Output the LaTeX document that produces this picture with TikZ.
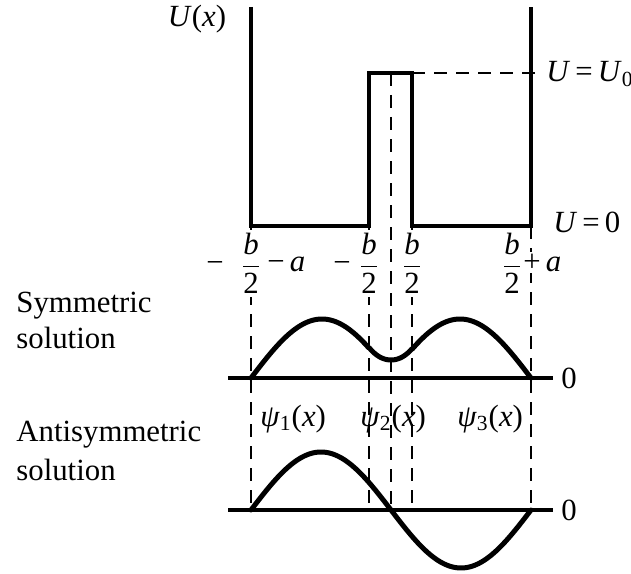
\documentclass[tikz,border=0pt]{standalone}
\usepackage{amsmath}
\usepackage{fontspec}
\setmainfont{Liberation Serif}
\begin{document}
\begin{tikzpicture}[x=0.5bp,y=-0.5bp,
  wall/.style={line width=1.6bp},
  dashline/.style={line width=0.75bp, dash pattern=on 6.5bp off 4.5bp},
  wave/.style={line width=2.5bp, line join=round, line cap=round},
  axisline/.style={line width=1.8bp},
  lbl/.style={inner sep=0pt, font=\fontsize{15.4bp}{19bp}\selectfont},
  frac/.style={lbl, fill=white, inner sep=1.5bp}]
\useasboundingbox (0,0) rectangle (631,574);

% potential profile
\coordinate (LT) at (251,7);
\coordinate (LB) at (251,226);
\coordinate (B1B) at (369,226);
\coordinate (B1T) at (369,73);
\coordinate (B2T) at (412,73);
\coordinate (B2B) at (412,226);
\coordinate (RB) at (531,226);
\coordinate (RT) at (531,7);
\coordinate (U0end) at (542,73);
\coordinate (CT) at (391,73);
\coordinate (CB) at (391,510);
\coordinate (LD) at (251,510);
\coordinate (B1D) at (369,510);
\coordinate (B2D) at (412,510);
\coordinate (RD) at (531,510);

\draw[dashline] (B2T) -- (U0end);
\draw[dashline] (CT) -- (CB);
\draw[dashline] (LB) -- (LD);
\draw[dashline] (B1B) -- (B1D);
\draw[dashline] (B2B) -- (B2D);
\draw[dashline] (RB) -- (RD);

\draw[wall] (LT) -- (LB) -- (B1B) -- (B1T) -- (B2T) -- (B2B) -- (RB) -- (RT);

% labels of potential
\node[lbl, anchor=base] (Ux) at (197,27) {\textit{U}(\textit{x})};
\node[lbl, anchor=base west] (U0) at (546,82) {\textit{U}\,=\,\textit{U}\textsubscript{0}};
\node[lbl, anchor=base west] (Uz) at (553,233) {\textit{U}\,=\,0};

% x-position labels
\node[frac, anchor=base] (f1) at (251,274) {$\dfrac{\textit{b}}{\textrm{2}}$};
\node[lbl, anchor=base] (m1) at (215,272) {−};
\node[lbl, fill=white, inner sep=1bp, anchor=base west] (ma) at (265,271) {−\,\textit{a}};
\node[frac, anchor=base] (f2) at (369,274) {$\dfrac{\textit{b}}{\textrm{2}}$};
\node[lbl, anchor=base] (m2) at (342,272) {−};
\node[frac, anchor=base] (f3) at (412,274) {$\dfrac{\textit{b}}{\textrm{2}}$};
\node[frac, anchor=base] (f4) at (512,274) {$\dfrac{\textit{b}}{\textrm{2}}$};
\node[lbl, fill=white, inner sep=1bp, anchor=base west] (pa) at (521,271) {+\,\textit{a}};

% side texts
\node[lbl, anchor=base west] (s1) at (16,312) {Symmetric};
\node[lbl, anchor=base west] (s2) at (16,348) {solution};
\node[lbl, anchor=base west] (a1) at (16,441) {Antisymmetric};
\node[lbl, anchor=base west] (a2) at (16,480) {solution};

% axes
\coordinate (SA1) at (228,378);
\coordinate (SA2) at (553,378);
\coordinate (AA1) at (228,510);
\coordinate (AA2) at (553,510);
\draw[axisline] (SA1) -- (SA2);
\draw[axisline] (AA1) -- (AA2);
\node[lbl, anchor=west] (z1) at (561,378) {0};
\node[lbl, anchor=west] (z2) at (561,510) {0};

% psi labels
\node[lbl, anchor=base west] (p1) at (260,426) {\textit{ψ}\textsubscript{1}(\textit{x})};
\node[lbl, anchor=base west] (p2) at (360,426) {\textit{ψ}\textsubscript{2}(\textit{x})};
\node[lbl, anchor=base west] (p3) at (457,426) {\textit{ψ}\textsubscript{3}(\textit{x})};

% symmetric wave
\draw[wave] plot[domain=251:369,samples=60] (\x,{378-59*sin(1.268*(\x-251))})
  -- plot[domain=369:412,samples=30] (\x,{378-18*cosh(0.0509*(\x-391))})
  -- plot[domain=412:531,samples=60] (\x,{378-59*sin(1.268*(531-\x))});

% antisymmetric wave
\draw[wave] plot[domain=251:531,samples=140] (\x,{510-58*sin(1.2857*(\x-251))});
\end{tikzpicture}
\end{document}
